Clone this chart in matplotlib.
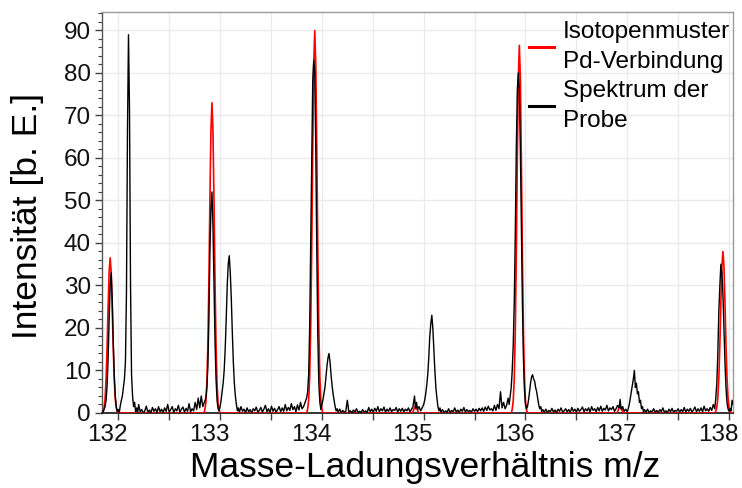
import matplotlib
matplotlib.use("Agg")
import matplotlib.pyplot as plt
import matplotlib.transforms as mtransforms
from matplotlib.ticker import MultipleLocator, FuncFormatter
from matplotlib.lines import Line2D

plt.rcParams['font.family'] = ['Liberation Sans', 'DejaVu Sans']

# ---------------- data ----------------
x_label = "Masse-Ladungsverhältnis m/z"
y_label = "Intensität [b. E.]"
legend_labels = ["Isotopenmuster\nPd-Verbindung", "Spektrum der\nProbe"]
x_ticks_labeled = [132, 133, 134, 135, 136, 137, 138]
y_ticks = [0, 10, 20, 30, 40, 50, 60, 70, 80, 90]

# Isotope pattern of the Pd compound (red)
pattern_mz = [131.84,
              131.85, 131.86, 131.87, 131.88, 131.89, 131.90, 131.91, 131.92,
              131.93, 131.94, 131.95, 131.96, 131.97, 131.98, 131.99, 132.00,
              132.84, 132.85, 132.86, 132.87, 132.88, 132.89, 132.90, 132.91, 132.92,
              132.93, 132.94, 132.95, 132.96, 132.97, 132.98, 132.99, 133.00,
              133.85, 133.86, 133.87, 133.88, 133.89, 133.90, 133.91, 133.92, 133.93,
              133.94, 133.95, 133.96, 133.97, 133.98, 133.99, 134.00, 134.01,
              134.89, 134.90, 134.91, 134.92, 134.93, 134.94, 134.95,
              135.86, 135.87, 135.88, 135.89, 135.90, 135.91, 135.92, 135.93, 135.94,
              135.95, 135.96, 135.97, 135.98, 135.99, 136.00, 136.01, 136.02,
              136.90, 136.91, 136.92, 136.93, 136.94, 136.95, 136.96,
              137.86, 137.87, 137.88, 137.89, 137.90, 137.91, 137.92, 137.93, 137.94,
              137.95, 137.96, 137.97, 137.98, 137.99, 138.00, 138.01, 138.02,
              138.05]
pattern_int = [0.0,
               0.4, 1.2, 3.4, 8.0, 15.6, 25.0, 33.2, 36.5,
               33.2, 25.0, 15.6, 8.0, 3.4, 1.2, 0.4, 0.0,
               0.0, 0.7, 2.4, 6.9, 16.1, 31.2, 50.0, 66.4, 73.0,
               66.4, 50.0, 31.2, 16.1, 6.9, 2.4, 0.7, 0.0,
               0.0, 0.9, 3.0, 8.5, 19.8, 38.4, 61.7, 81.9, 90.0,
               81.9, 61.7, 38.4, 19.8, 8.5, 3.0, 0.9, 0.0,
               0.0, 0.6, 1.3, 1.6, 1.3, 0.6, 0.0,
               0.0, 0.8, 2.9, 8.1, 19.0, 36.9, 59.3, 78.7, 86.5,
               78.7, 59.3, 36.9, 19.0, 8.1, 2.9, 0.8, 0.0,
               0.0, 0.6, 1.3, 1.6, 1.3, 0.6, 0.0,
               0.0, 0.4, 1.3, 3.6, 8.4, 16.2, 26.0, 34.6, 38.0,
               34.6, 26.0, 16.2, 8.4, 3.6, 1.3, 0.4, 0.0,
               0.0]

# Measured spectrum of the sample (black)
probe_mz = [
    131.84, 131.85, 131.86, 131.87, 131.88, 131.89, 131.90, 131.91, 131.92, 131.93,
    131.94, 131.95, 131.96, 131.97, 131.98, 131.99, 132.00, 132.01, 132.02, 132.03,
    132.04, 132.05, 132.06, 132.07, 132.08, 132.09, 132.10, 132.11, 132.12, 132.13,
    132.14, 132.15, 132.16, 132.17,
    132.18, 132.19, 132.20, 132.215, 132.23, 132.245, 132.26, 132.275, 132.29, 132.305,
    132.32, 132.335, 132.35, 132.365, 132.38, 132.395, 132.41, 132.425, 132.44, 132.455,
    132.47, 132.485, 132.50, 132.515, 132.53, 132.545, 132.56, 132.575, 132.59, 132.605,
    132.62, 132.635, 132.65, 132.665, 132.68, 132.695, 132.71, 132.725, 132.74, 132.755,
    132.77, 132.785, 132.80, 132.815, 132.83, 132.845, 132.86,
    132.87, 132.88, 132.89, 132.90, 132.91, 132.92, 132.93, 132.94, 132.95, 132.96,
    132.97, 132.98, 132.99, 133.00,
    133.01, 133.02, 133.03, 133.04, 133.05, 133.06, 133.07, 133.08, 133.09, 133.10,
    133.11, 133.12, 133.13, 133.14, 133.15, 133.16, 133.17, 133.18,
    133.19, 133.205, 133.22, 133.235, 133.25, 133.265, 133.28, 133.295, 133.31, 133.325,
    133.34, 133.355, 133.37, 133.385, 133.40, 133.415, 133.43, 133.445, 133.46, 133.475,
    133.49, 133.505, 133.52, 133.535, 133.55, 133.565, 133.58, 133.595, 133.61, 133.625,
    133.64, 133.655, 133.67, 133.685, 133.70, 133.715, 133.73, 133.745, 133.76, 133.775,
    133.79, 133.805, 133.82, 133.835, 133.85, 133.86,
    133.87, 133.88, 133.89, 133.90, 133.91, 133.92, 133.93, 133.94, 133.95, 133.96,
    133.97, 133.98, 133.99, 134.00,
    134.01, 134.02, 134.03, 134.04, 134.05, 134.06, 134.07, 134.08, 134.09, 134.10,
    134.11, 134.12, 134.13, 134.14, 134.15,
    134.16, 134.175, 134.19, 134.205, 134.22, 134.235, 134.25, 134.265, 134.28, 134.295,
    134.31, 134.325, 134.34, 134.355, 134.37, 134.385, 134.40, 134.415, 134.43, 134.445,
    134.46, 134.475, 134.49, 134.505, 134.52, 134.535, 134.55, 134.565, 134.58, 134.595,
    134.61, 134.625, 134.64, 134.655, 134.67, 134.685, 134.70, 134.715, 134.73, 134.745,
    134.76, 134.775, 134.79, 134.805, 134.82, 134.835, 134.85, 134.865, 134.88,
    134.895, 134.91, 134.92, 134.93, 134.94, 134.955, 134.97, 134.985, 135.00,
    135.01, 135.02, 135.03, 135.04, 135.05, 135.06, 135.07, 135.08, 135.09, 135.10,
    135.11, 135.12, 135.13, 135.14, 135.15, 135.16,
    135.17, 135.185, 135.20, 135.215, 135.23, 135.245, 135.26, 135.275, 135.29, 135.305,
    135.32, 135.335, 135.35, 135.365, 135.38, 135.395, 135.41, 135.425, 135.44, 135.455,
    135.47, 135.485, 135.50, 135.515, 135.53, 135.545, 135.56, 135.575, 135.59, 135.605,
    135.62, 135.635, 135.65, 135.665, 135.68, 135.695, 135.71, 135.725, 135.74, 135.755,
    135.77, 135.785, 135.80, 135.815, 135.83, 135.84, 135.85,
    135.86, 135.87, 135.88, 135.89, 135.90, 135.91, 135.92, 135.93, 135.94, 135.95,
    135.96, 135.97, 135.98, 135.99, 136.00, 136.01,
    136.02, 136.03, 136.04, 136.05, 136.06, 136.07, 136.08, 136.09, 136.10, 136.11,
    136.12, 136.13, 136.14, 136.15, 136.16, 136.17,
    136.185, 136.20, 136.215, 136.23, 136.245, 136.26, 136.275, 136.29, 136.305, 136.32,
    136.335, 136.35, 136.365, 136.38, 136.395, 136.41, 136.425, 136.44, 136.455, 136.47,
    136.485, 136.50, 136.515, 136.53, 136.545, 136.56, 136.575, 136.59, 136.605, 136.62,
    136.635, 136.65, 136.665, 136.68, 136.695, 136.71, 136.725, 136.74, 136.755, 136.77,
    136.785, 136.80, 136.815, 136.83, 136.845, 136.86, 136.875, 136.89, 136.905, 136.92,
    136.93, 136.94, 136.955, 136.97, 136.985, 137.00,
    137.01, 137.02, 137.03, 137.04, 137.05, 137.06, 137.07, 137.08, 137.09, 137.10,
    137.11, 137.12, 137.13, 137.14, 137.15, 137.16, 137.17,
    137.185, 137.20, 137.215, 137.23, 137.245, 137.26, 137.275, 137.29, 137.305, 137.32,
    137.335, 137.35, 137.365, 137.38, 137.395, 137.41, 137.425, 137.44, 137.455, 137.47,
    137.485, 137.50, 137.515, 137.53, 137.545, 137.56, 137.575, 137.59, 137.605, 137.62,
    137.635, 137.65, 137.665, 137.68, 137.695, 137.71, 137.725, 137.74, 137.755, 137.77,
    137.785, 137.80, 137.815, 137.83, 137.845, 137.86,
    137.87, 137.88, 137.89, 137.90, 137.91, 137.92, 137.93, 137.94, 137.95, 137.96,
    137.97, 137.98, 137.99, 138.00, 138.01, 138.02, 138.03, 138.04, 138.05,
]
probe_int = [
    0.5, 0.2, 0.8, 1.5, 3.0, 6.5, 13.0, 22.0, 30.0, 33.0,
    27.0, 17.0, 9.0, 4.0, 1.5, 0.3, 0.8, 0.2, 1.8, 3.0,
    4.0, 6.0, 8.0, 12.0, 28.0, 66.0, 89.0, 71.0, 30.0, 9.0,
    4.0, 1.5, 2.5, 0.3,
    1.2, 0.0, 2.0, 0.3, 0.8, 0.0, 0.5, 1.6, 0.2, 0.7,
    0.0, 1.3, 0.4, 1.0, 0.1, 1.5, 0.3, 0.9, 0.0, 1.2,
    0.4, 2.0, 0.2, 0.8, 1.5, 0.1, 1.0, 0.5, 1.8, 0.2,
    0.9, 1.4, 0.2, 1.1, 0.4, 2.2, 0.3, 1.0, 0.5, 2.5,
    0.8, 3.5, 1.2, 4.0, 1.5, 2.5, 3.5,
    6.0, 11.0, 22.0, 38.0, 48.0, 52.0, 44.0, 30.0, 17.0, 8.0,
    3.0, 1.0, 0.5, 1.5,
    3.0, 5.0, 7.0, 10.0, 15.0, 22.0, 30.0, 35.0, 37.0, 33.0,
    27.0, 19.0, 12.0, 7.0, 4.0, 2.0, 0.5, 1.2,
    0.2, 1.5, 0.4, 0.9, 0.1, 1.2, 0.3, 0.8, 0.0, 1.0,
    0.5, 1.4, 0.2, 0.6, 1.3, 0.2, 0.9, 1.8, 0.3, 1.0,
    0.1, 1.6, 0.4, 1.1, 0.2, 0.8, 1.5, 0.3, 1.2, 0.4,
    2.0, 0.5, 1.3, 0.6, 2.2, 0.8, 1.5, 0.3, 1.9, 0.7,
    2.5, 1.0, 1.5, 2.5, 3.5, 5.0,
    9.0, 20.0, 40.0, 62.0, 78.0, 83.0, 80.0, 62.0, 38.0, 18.0,
    7.0, 2.5, 0.8, 2.0,
    3.0, 4.5, 6.0, 8.5, 11.0, 13.0, 14.0, 12.0, 9.0, 6.5,
    4.5, 3.0, 1.5, 0.5, 1.0,
    0.2, 0.9, 0.1, 0.6, 0.2, 0.4, 3.0, 0.2, 0.5, 0.1,
    0.7, 0.2, 1.0, 0.1, 0.4, 0.1, 0.8, 0.2, 0.5, 0.1,
    1.3, 0.3, 0.9, 0.2, 1.1, 0.4, 1.5, 0.3, 1.0, 0.5,
    1.4, 0.2, 0.9, 0.4, 1.2, 0.3, 0.8, 0.6, 1.3, 0.2,
    1.0, 0.4, 1.1, 0.3, 0.9, 0.5, 1.2, 0.3, 0.8,
    1.5, 4.0, 1.0, 2.5, 0.8, 1.5, 0.5, 1.2, 2.0,
    3.0, 4.5, 6.5, 9.0, 13.0, 18.0, 21.0, 23.0, 20.0, 15.0,
    10.0, 6.0, 3.5, 1.5, 0.5, 1.2,
    0.2, 0.8, 0.1, 0.5, 0.2, 1.0, 0.1, 0.6, 0.3, 1.2,
    0.2, 0.7, 0.1, 0.9, 0.4, 1.3, 0.2, 0.8, 0.3, 0.6,
    0.2, 1.0, 0.4, 0.9, 0.3, 1.1, 0.5, 1.2, 0.4, 1.4,
    0.6, 1.6, 0.7, 1.0, 0.5, 1.8, 0.6, 2.0, 1.0, 5.0,
    1.2, 2.5, 1.0, 1.8, 3.5, 2.0, 4.0,
    6.0, 10.0, 16.0, 26.0, 42.0, 62.0, 76.0, 80.0, 76.0, 62.0,
    44.0, 26.0, 13.0, 5.5, 2.0, 1.0,
    1.5, 3.0, 5.0, 7.0, 8.5, 9.0, 8.0, 7.5, 6.0, 5.0,
    3.5, 2.0, 1.0, 1.5, 0.3, 0.8,
    0.2, 0.9, 0.1, 0.6, 0.3, 1.1, 0.2, 0.7, 0.1, 0.9,
    0.4, 1.2, 0.2, 0.5, 1.0, 0.3, 0.8, 0.1, 1.3, 0.4,
    0.9, 0.2, 1.1, 0.4, 0.8, 1.4, 0.3, 1.0, 0.5, 1.2,
    0.2, 1.5, 0.6, 1.0, 0.3, 1.3, 0.5, 1.6, 0.4, 1.1,
    0.7, 1.8, 0.5, 1.2, 0.8, 1.5, 0.4, 1.0, 1.8, 1.2,
    3.2, 0.8, 1.5, 0.4, 0.9, 0.3,
    1.0, 2.0, 3.5, 5.0, 6.5, 8.0, 10.0, 6.0, 7.0, 4.5,
    5.0, 2.5, 3.0, 1.0, 1.5, 0.2, 0.8,
    0.2, 0.9, 0.1, 0.5, 0.3, 1.0, 0.2, 0.6, 0.1, 0.8,
    0.3, 1.2, 0.2, 0.5, 0.1, 0.9, 0.3, 1.1, 0.2, 0.6,
    0.4, 1.0, 0.2, 0.8, 0.3, 1.3, 0.2, 0.9, 0.4, 1.1,
    0.2, 0.7, 1.4, 0.3, 1.0, 0.4, 1.2, 0.3, 1.6, 0.5,
    1.0, 0.4, 1.3, 0.6, 2.0, 1.0,
    3.5, 7.0, 14.0, 24.0, 30.0, 35.0, 33.0, 28.0, 20.0, 12.0,
    6.0, 2.5, 1.0, 0.4, 1.0, 0.5, 3.0, 2.0, 2.5,
]

# ---------------- figure ----------------
fig = plt.figure(figsize=(7.42, 4.88), dpi=100)
ax = fig.add_axes([0.1375, 0.1537, 0.8505, 0.8213])

ax.plot(pattern_mz, pattern_int, color='#ff0000', lw=1.2, zorder=3)
ax.plot(probe_mz, probe_int, color='black', lw=1.0, zorder=4)

ax.set_xlim(131.84, 138.04)
ax.set_ylim(0, 94.3)

ax.xaxis.set_major_locator(MultipleLocator(0.5))
ax.xaxis.set_major_formatter(FuncFormatter(
    lambda v, p: str(int(round(v))) if abs(v - round(v)) < 1e-6 and int(round(v)) in x_ticks_labeled else ''))
ax.set_yticks(y_ticks)
ax.yaxis.set_minor_locator(MultipleLocator(2))

ax.grid(True, which='major', color='#ebebeb', lw=1.0, zorder=0)
ax.set_axisbelow(True)

ax.tick_params(axis='both', which='major', direction='out', length=5, width=1,
               color='#404040', labelsize=17.5, labelcolor='#111111')
ax.tick_params(axis='y', which='minor', direction='out', length=3, width=0.8, color='#404040')
ax.tick_params(axis='x', pad=3)
ax.tick_params(axis='y', pad=3)

# x tick labels sit slightly left of their ticks in the reference
shift = mtransforms.ScaledTranslation(-11 / 100, 0, fig.dpi_scale_trans)
for lbl in ax.get_xticklabels():
    lbl.set_transform(lbl.get_transform() + shift)

for side in ['top', 'right']:
    ax.spines[side].set_color('#9a9a9a')
    ax.spines[side].set_linewidth(1.0)
ax.spines['left'].set_color('#555555')
ax.spines['bottom'].set_color('#111111')
ax.spines['left'].set_linewidth(1.0)
ax.spines['bottom'].set_linewidth(1.2)

ax.set_xlabel(x_label, fontsize=25.5)
ax.set_ylabel(y_label, fontsize=25.5)
ax.xaxis.set_label_coords(0.512, -0.095)
ax.yaxis.set_label_coords(-0.092, 0.491)

handles = [Line2D([], [], color='#ff0000', lw=2.2), Line2D([], [], color='black', lw=2.2)]
leg = ax.legend(handles, legend_labels, loc='upper right', frameon=False, fontsize=17.5,
                handlelength=1.05, handletextpad=0.35, labelspacing=0.3,
                borderpad=0.0, borderaxespad=0.0, bbox_to_anchor=(0.995, 0.978))
for t in leg.get_texts():
    t.set_linespacing(1.45)

fig.savefig('out.png', dpi=100)
